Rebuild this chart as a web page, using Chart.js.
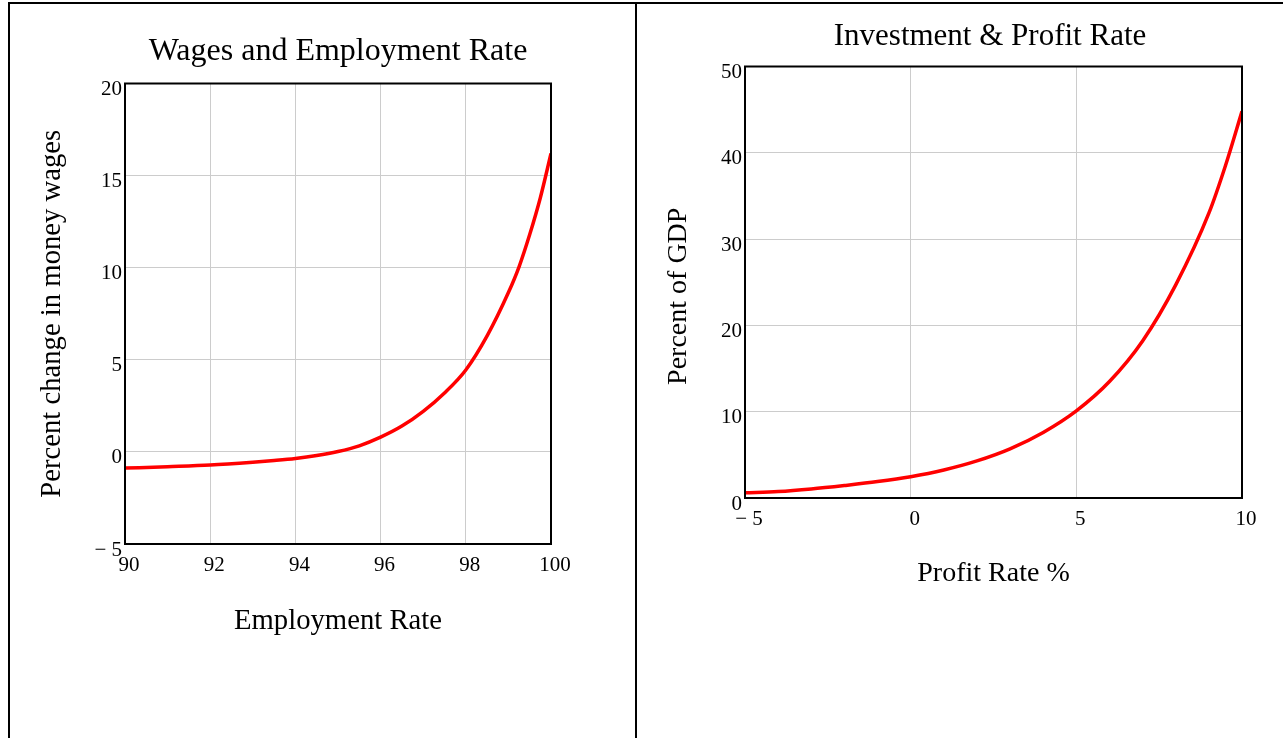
<!DOCTYPE html>
<html>
<head>
<meta charset="utf-8">
<script src="https://cdn.jsdelivr.net/npm/chart.js@4/dist/chart.umd.min.js"></script>
<style>
  html, body { margin: 0; padding: 0; background: #fff; overflow: hidden; }
  body { width: 1283px; height: 738px; position: relative; }
  .rule { position: absolute; background: #000; z-index: 5; }
  #wrapLeft { position: absolute; left: 10px; top: 4px; width: 656px; height: 734px; z-index: 1; }
  #wrapRight { position: absolute; left: 637px; top: 4px; width: 713px; height: 734px; z-index: 2; }
</style>
</head>
<body>
<div class="rule" style="left:8px; top:2px; width:1275px; height:2px;"></div>
<div class="rule" style="left:8px; top:2px; width:2px; height:736px;"></div>
<div class="rule" style="left:635px; top:2px; width:2px; height:736px;"></div>
<div id="wrapLeft"><canvas id="wages" width="656" height="734"></canvas></div>
<div id="wrapRight"><canvas id="invest" width="713" height="734"></canvas></div>
<script>
// Data
const employmentRate = [90, 91, 92, 93, 93.5, 94, 94.5, 95, 95.5, 96, 96.5, 97, 97.5, 98, 98.5, 99, 99.25, 99.5, 99.75, 100];
const wageChange = [-0.88, -0.8, -0.71, -0.56, -0.47, -0.36, -0.2, 0.02, 0.33, 0.8, 1.4, 2.2, 3.2, 4.45, 6.3, 8.65, 10.05, 11.8, 13.8, 16.2];

const profitRate = [-5, -4, -3, -2, -1, 0, 1, 2, 3, 4, 5, 6, 7, 8, 9, 9.5, 10];
const investmentShare = [0.6, 0.75, 1.05, 1.45, 1.9, 2.47, 3.25, 4.3, 5.7, 7.6, 10.1, 13.5, 18.2, 24.7, 33.0, 38.5, 44.8];

const wageTicks = { xMin: 90, xMax: 100, xStep: 2, yMin: -5, yMax: 20, yStep: 5 };
const investTicks = { xMin: -5, xMax: 10, xStep: 5, yMin: 0, yMax: 50, yStep: 10 };

const FONT = "'Liberation Serif', 'Times New Roman', serif";
const GRID = '#cccccc';

const frame = {
    id: 'frame',
    afterDraw(chart) {
        const a = chart.chartArea;
        const ctx = chart.ctx;
        ctx.save();
        ctx.strokeStyle = '#000';
        ctx.lineWidth = 2;
        ctx.strokeRect(a.left, a.top, a.right - a.left, a.bottom - a.top);
        ctx.restore();
    }
};

function fmt(value) {
    return value < 0 ? '\u2212 ' + Math.abs(value) : String(value);
}

function toPoints(xs, ys) {
    return xs.map((x, i) => ({ x: x, y: ys[i] }));
}

function makeChart(id, cfg) {
    return new Chart(document.getElementById(id), {
        type: 'line',
        data: {
            datasets: [{
                data: toPoints(cfg.xs, cfg.ys),
                borderColor: '#ff0000',
                borderWidth: 3.5,
                pointRadius: 0,
                cubicInterpolationMode: 'monotone',
                fill: false,
            }]
        },
        options: {
            responsive: false,
            animation: false,
            layout: { padding: { left: 0, top: 0, right: cfg.padRight, bottom: cfg.padBottom } },
            plugins: {
                legend: { display: false },
                tooltip: { enabled: false },
                title: {
                    display: true,
                    text: cfg.title,
                    color: '#000',
                    font: { family: FONT, size: cfg.titleSize, weight: 'normal' },
                    padding: { top: cfg.titleTop, bottom: cfg.titleBottom },
                },
            },
            scales: {
                x: {
                    type: 'linear',
                    min: cfg.ticks.xMin,
                    max: cfg.ticks.xMax,
                    grid: { color: GRID, drawTicks: false },
                    border: { display: false },
                    ticks: {
                        stepSize: cfg.ticks.xStep, autoSkip: false, maxRotation: 0,
                        padding: 9, labelOffset: 4, color: '#000',
                        font: { family: FONT, size: 21 }, callback: fmt,
                    },
                    title: {
                        display: true, text: cfg.xTitle, color: '#000',
                        font: { family: FONT, size: cfg.axisSize }, padding: { top: 0, bottom: 0 },
                    },
                    afterFit(scale) { scale.height = cfg.xHeight; },
                },
                y: {
                    type: 'linear',
                    min: cfg.ticks.yMin,
                    max: cfg.ticks.yMax,
                    grid: { color: GRID, drawTicks: false },
                    border: { display: false },
                    ticks: {
                        stepSize: cfg.ticks.yStep, autoSkip: false,
                        padding: 3, labelOffset: 6, color: '#000',
                        font: { family: FONT, size: 21 }, callback: fmt,
                    },
                    title: {
                        display: true, text: cfg.yTitle, color: '#000',
                        font: { family: FONT, size: cfg.axisSize }, padding: { top: 25, bottom: 0 },
                    },
                    afterFit(scale) { scale.width = cfg.yWidth; },
                },
                yPad: {
                    axis: 'y', type: 'linear', position: 'right', min: 0, max: 1,
                    grid: { display: false }, border: { display: false },
                    ticks: { display: false },
                    afterFit(scale) { scale.width = cfg.rightWidth; },
                },
            },
        },
        plugins: [frame],
    });
}

makeChart('wages', {
    xs: employmentRate, ys: wageChange, ticks: wageTicks,
    title: 'Wages and Employment Rate', titleSize: 32, titleTop: 28.8, titleBottom: 12.3,
    xTitle: 'Employment Rate', yTitle: 'Percent change in money wages', axisSize: 28.7,
    yWidth: 115, rightWidth: 115, padRight: 0, padBottom: 99.2, xHeight: 94.8,
});

makeChart('invest', {
    xs: profitRate, ys: investmentShare, ticks: investTicks,
    title: 'Investment & Profit Rate', titleSize: 31, titleTop: 14.4, titleBottom: 10.9,
    xTitle: 'Profit Rate %', yTitle: 'Percent of GDP    ', axisSize: 28,
    yWidth: 108, rightWidth: 101, padRight: 7, padBottom: 147.2, xHeight: 92.8,
});
</script>
</body>
</html>
